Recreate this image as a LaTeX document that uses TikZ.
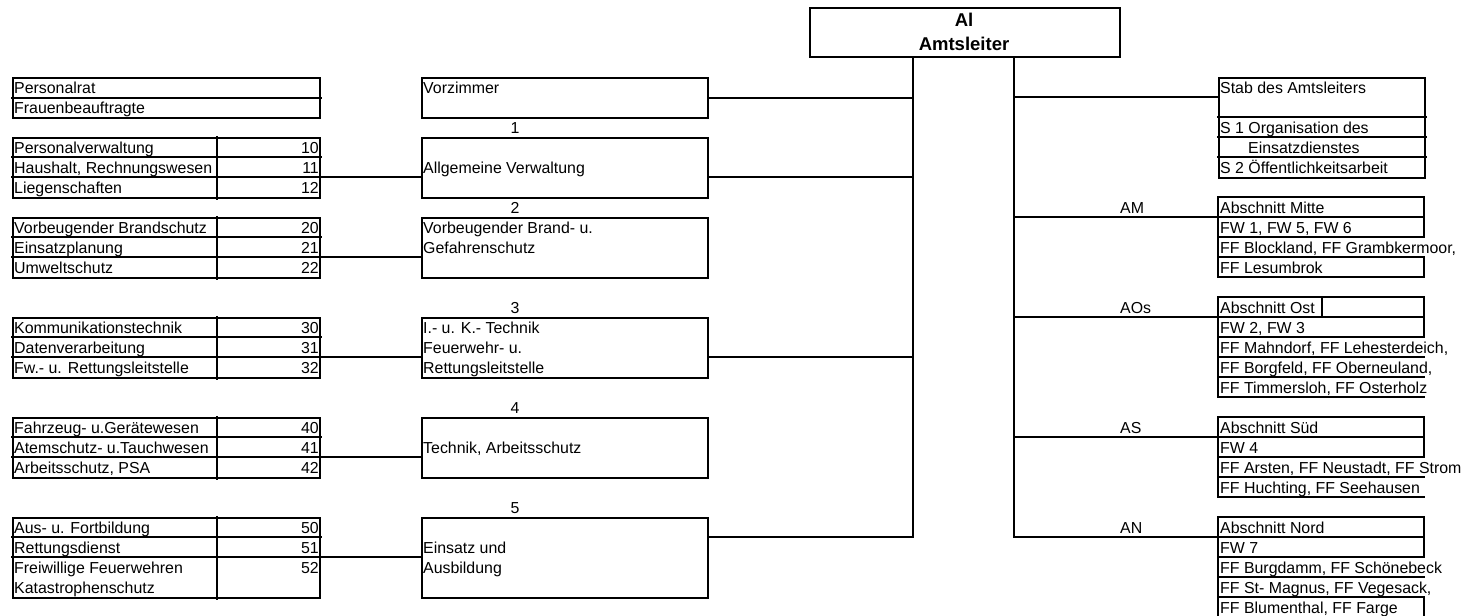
\documentclass[tikz,border=0pt]{standalone}
\usepackage{fontspec}
\setmainfont{Liberation Sans}
\usetikzlibrary{calc}
\newcommand{\fs}{\fontsize{15.9}{18}\selectfont}
% left group with three numbered rows
\newcommand{\leftgrpbox}[8]{%
  \node[box, minimum width=307pt, minimum height=60pt] (#1) at (12,#2) {};
  \draw[ln] ($(#1.north west)+(0,20)$) -- ($(#1.north east)+(0,20)$);
  \draw[ln] ($(#1.north west)+(0,40)$) -- ($(#1.north east)+(0,40)$);
  \draw[ln] ($(#1.north west)+(205,0)$) -- ($(#1.south west)+(205,0)$);
  \node[tl] (#1ta) at ($(#1.north west)+(2,16)$) {#3};
  \node[tl] (#1tb) at ($(#1.north west)+(2,36)$) {#4};
  \node[tl] (#1tc) at ($(#1.north west)+(2,56)$) {#5};
  \node[tr] (#1na) at ($(#1.north east)+(-2,16)$) {#6};
  \node[tr] (#1nb) at ($(#1.north east)+(-2,36)$) {#7};
  \node[tr] (#1nc) at ($(#1.north east)+(-2,56)$) {#8};
  \coordinate (#1c) at ($(#1.north east)+(0,40)$);
}
\begin{document}
\begin{tikzpicture}[x=1pt,y=-1pt,
  box/.style={draw, line width=2pt, inner sep=0pt, anchor=north west},
  grp/.style={inner sep=0pt, anchor=north west},
  ln/.style={line width=2pt, line cap=rect},
  cn/.style={line width=2pt},
  tl/.style={anchor=base west, inner sep=0pt, font=\fs},
  tr/.style={anchor=base east, inner sep=0pt, font=\fs},
  tc/.style={anchor=base, inner sep=0pt, font=\fs},
  tb/.style={anchor=base, inner sep=0pt, font=\fontsize{18.5}{22}\selectfont\bfseries}]
\useasboundingbox (0,0) rectangle (1468,616);

% ---------- Amtsleiter ----------
\node[box, minimum width=310pt, minimum height=49pt] (al) at (809,7) {};
\node[tb] (alt1) at (964,26) {Al};
\node[tb] (alt2) at (964,50) {Amtsleiter};
\coordinate (trL) at ($(al.south west)+(104,0)$);
\coordinate (trR) at ($(al.south west)+(205,0)$);

% ---------- left column ----------
\node[box, minimum width=307pt, minimum height=40pt] (g0) at (12,77) {};
\draw[ln] (g0.west) -- (g0.east);
\node[tl] (g0ta) at ($(g0.north west)+(2,16)$) {Personalrat};
\node[tl] (g0tb) at ($(g0.north west)+(2,36)$) {Frauenbeauftragte};

\leftgrpbox{g1}{137}{Personalverwaltung}{Haushalt, Rechnungswesen}{Liegenschaften}{10}{11}{12}
\leftgrpbox{g2}{217}{Vorbeugender Brandschutz}{Einsatzplanung}{Umweltschutz}{20}{21}{22}
\leftgrpbox{g3}{317}{Kommunikationstechnik}{Datenverarbeitung}{Fw.- u. Rettungsleitstelle}{30}{31}{32}
\leftgrpbox{g4}{417}{Fahrzeug- u.Gerätewesen}{Atemschutz- u.Tauchwesen}{Arbeitsschutz, PSA}{40}{41}{42}

\node[box, minimum width=307pt, minimum height=80pt] (g5) at (12,517) {};
\draw[ln] ($(g5.north west)+(0,20)$) -- ($(g5.north east)+(0,20)$);
\draw[ln] ($(g5.north west)+(0,40)$) -- ($(g5.north east)+(0,40)$);
\draw[ln] ($(g5.north west)+(205,0)$) -- ($(g5.south west)+(205,0)$);
\node[tl] (g5ta) at ($(g5.north west)+(2,16)$) {Aus- u. Fortbildung};
\node[tl] (g5tb) at ($(g5.north west)+(2,36)$) {Rettungsdienst};
\node[tl] (g5tc) at ($(g5.north west)+(2,56)$) {Freiwillige Feuerwehren};
\node[tl] (g5td) at ($(g5.north west)+(2,76)$) {Katastrophenschutz};
\node[tr] (g5na) at ($(g5.north east)+(-2,16)$) {50};
\node[tr] (g5nb) at ($(g5.north east)+(-2,36)$) {51};
\node[tr] (g5nc) at ($(g5.north east)+(-2,56)$) {52};
\coordinate (g5c) at ($(g5.north east)+(0,40)$);

% ---------- middle column ----------
\node[box, minimum width=286pt, minimum height=40pt] (m0) at (421,77) {};
\node[tl] (m0t) at ($(m0.north west)+(2,16)$) {Vorzimmer};

\node[tc] (n1) at (515,133) {1};
\node[box, minimum width=286pt, minimum height=60pt] (m1) at (421,137) {};
\node[tl] (m1t) at ($(m1.north west)+(2,36)$) {Allgemeine Verwaltung};

\node[tc] (n2) at (515,213) {2};
\node[box, minimum width=286pt, minimum height=60pt] (m2) at (421,217) {};
\node[tl] (m2ta) at ($(m2.north west)+(2,16)$) {Vorbeugender Brand- u.};
\node[tl] (m2tb) at ($(m2.north west)+(2,36)$) {Gefahrenschutz};

\node[tc] (n3) at (515,313) {3};
\node[box, minimum width=286pt, minimum height=60pt] (m3) at (421,317) {};
\node[tl] (m3ta) at ($(m3.north west)+(2,16)$) {I.- u. K.- Technik};
\node[tl] (m3tb) at ($(m3.north west)+(2,36)$) {Feuerwehr- u.};
\node[tl] (m3tc) at ($(m3.north west)+(2,56)$) {Rettungsleitstelle};

\node[tc] (n4) at (515,413) {4};
\node[box, minimum width=286pt, minimum height=60pt] (m4) at (421,417) {};
\node[tl] (m4t) at ($(m4.north west)+(2,36)$) {Technik, Arbeitsschutz};

\node[tc] (n5) at (515,513) {5};
\node[box, minimum width=286pt, minimum height=80pt] (m5) at (421,517) {};
\node[tl] (m5ta) at ($(m5.north west)+(2,36)$) {Einsatz und};
\node[tl] (m5tb) at ($(m5.north west)+(2,56)$) {Ausbildung};

% left -> middle connectors
\foreach \g/\m in {g1/m1,g2/m2,g3/m3,g4/m4,g5/m5}
  \draw[cn] (\g c) -- (\g c -| \m.west);

% middle -> left trunk
\coordinate (m1c) at ($(m1.north east)+(0,40)$);
\coordinate (m3c) at ($(m3.north east)+(0,40)$);
\coordinate (m5c) at ($(m5.north east)+(0,20)$);
\draw[cn] (trL) |- (m5c);
\draw[cn] (m0.east) -- (m0.east -| trL);
\draw[cn] (m1c) -- (m1c -| trL);
\draw[cn] (m3c) -- (m3c -| trL);

% ---------- right column ----------
% Stab
\node[box, minimum width=206pt, minimum height=100pt] (st) at (1218,77) {};
\foreach \d in {40,60,80}
  \draw[ln] ($(st.north west)+(0,\d)$) -- ($(st.north east)+(0,\d)$);
\node[tl] (stt1) at ($(st.north west)+(2,16)$) {Stab des Amtsleiters};
\node[tl] (stt2) at ($(st.north west)+(2,56)$) {S 1 Organisation des};
\node[tl] (stt3) at ($(st.north west)+(30,76)$) {Einsatzdienstes};
\node[tl] (stt4) at ($(st.north west)+(2,96)$) {S 2 Öffentlichkeitsarbeit};
\coordinate (stc) at ($(st.north west)+(0,20)$);

% AM
\node[grp, minimum width=206pt, minimum height=80pt] (am) at (1218,197) {};
\draw[ln] ($(am.north east)+(0,40)$) -- (am.north east) -- (am.north west) -- (am.south west) -- (am.south east) -- ($(am.south east)+(0,-20)$);
\foreach \d in {20,40,60}
  \draw[ln] ($(am.north west)+(0,\d)$) -- ($(am.north east)+(0,\d)$);
\node[tl] (amt1) at ($(am.north west)+(2,16)$) {Abschnitt Mitte};
\node[tl] (amt2) at ($(am.north west)+(2,36)$) {FW 1, FW 5, FW 6};
\node[tl] (amt3) at ($(am.north west)+(2,56)$) {FF Blockland, FF Grambkermoor,};
\node[tl] (amt4) at ($(am.north west)+(2,76)$) {FF Lesumbrok};
\node[tl] (aml) at (1120,213) {AM};
\coordinate (amc) at ($(am.north west)+(0,20)$);

% AOs
\node[grp, minimum width=206pt, minimum height=100pt] (ao) at (1218,297) {};
\draw[ln] ($(ao.north east)+(0,40)$) -- (ao.north east) -- (ao.north west) -- (ao.south west) -- (ao.south east);
\foreach \d in {20,40,60,80}
  \draw[ln] ($(ao.north west)+(0,\d)$) -- ($(ao.north east)+(0,\d)$);
\draw[ln] ($(ao.north west)+(104,0)$) -- ($(ao.north west)+(104,20)$);
\node[tl] (aot1) at ($(ao.north west)+(2,16)$) {Abschnitt Ost};
\node[tl] (aot2) at ($(ao.north west)+(2,36)$) {FW 2, FW 3};
\node[tl] (aot3) at ($(ao.north west)+(2,56)$) {FF Mahndorf, FF Lehesterdeich,};
\node[tl] (aot4) at ($(ao.north west)+(2,76)$) {FF Borgfeld, FF Oberneuland,};
\node[tl] (aot5) at ($(ao.north west)+(2,96)$) {FF Timmersloh, FF Osterholz};
\node[tl] (aol) at (1120,313) {AOs};
\coordinate (aoc) at ($(ao.north west)+(0,20)$);

% AS
\node[grp, minimum width=206pt, minimum height=80pt] (as) at (1218,417) {};
\draw[ln] ($(as.north east)+(0,40)$) -- (as.north east) -- (as.north west) -- (as.south west) -- (as.south east);
\foreach \d in {20,40,60}
  \draw[ln] ($(as.north west)+(0,\d)$) -- ($(as.north east)+(0,\d)$);
\node[tl] (ast1) at ($(as.north west)+(2,16)$) {Abschnitt Süd};
\node[tl] (ast2) at ($(as.north west)+(2,36)$) {FW 4};
\node[tl] (ast3) at ($(as.north west)+(2,56)$) {FF Arsten, FF Neustadt, FF Strom};
\node[tl] (ast4) at ($(as.north west)+(2,76)$) {FF Huchting, FF Seehausen};
\node[tl] (asl) at (1120,433) {AS};
\coordinate (asc) at ($(as.north west)+(0,20)$);

% AN
\node[grp, minimum width=206pt, minimum height=100pt] (an) at (1218,517) {};
\draw[ln] ($(an.north east)+(0,40)$) -- (an.north east) -- (an.north west) -- (an.south west) -- (an.south east) -- ($(an.south east)+(0,-20)$);
\foreach \d in {20,40,60,80}
  \draw[ln] ($(an.north west)+(0,\d)$) -- ($(an.north east)+(0,\d)$);
\node[tl] (ant1) at ($(an.north west)+(2,16)$) {Abschnitt Nord};
\node[tl] (ant2) at ($(an.north west)+(2,36)$) {FW 7};
\node[tl] (ant3) at ($(an.north west)+(2,56)$) {FF Burgdamm, FF Schönebeck};
\node[tl] (ant4) at ($(an.north west)+(2,76)$) {FF St- Magnus, FF Vegesack,};
\node[tl] (ant5) at ($(an.north west)+(2,96)$) {FF Blumenthal, FF Farge};
\node[tl] (anl) at (1120,533) {AN};
\coordinate (anc) at ($(an.north west)+(0,20)$);

% right trunk and connectors
\draw[cn] (trR) |- (anc);
\foreach \c in {stc,amc,aoc,asc}
  \draw[cn] (trR |- \c) -- (\c);
\end{tikzpicture}
\end{document}
